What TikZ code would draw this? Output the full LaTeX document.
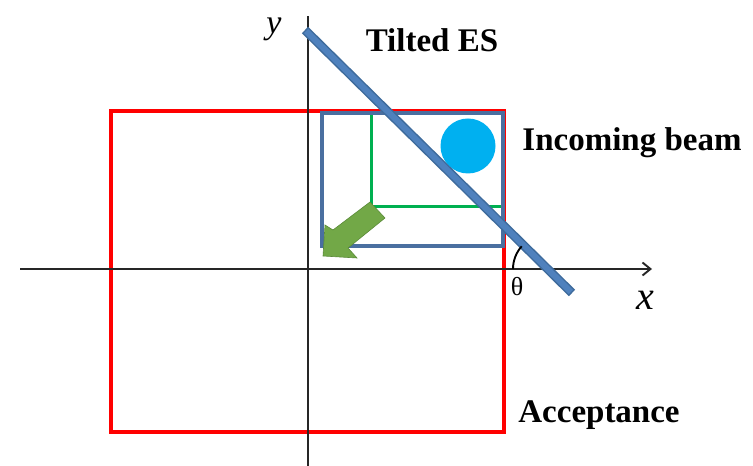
\documentclass[tikz,border=0pt]{standalone}
\usepackage{fontspec}
\setmainfont{Liberation Serif}
\definecolor{AccRed}{HTML}{FF0000}
\definecolor{BeamBlue}{HTML}{4A6FA0}
\definecolor{ESBlue}{HTML}{4F81BD}
\definecolor{ESEdge}{HTML}{3E6B9C}
\definecolor{CutGreen}{HTML}{00B050}
\definecolor{SpotCyan}{HTML}{00B0F0}
\definecolor{ArrGreen}{HTML}{72A847}
\definecolor{ArrEdge}{HTML}{5A8A38}
\usetikzlibrary{arrows.meta}

\begin{document}
\begin{tikzpicture}[x=1pt, y=1pt,
  axisline/.style={line width=1.9pt, draw=black!85},
  lbl/.style={font=\fontsize{33}{37}\selectfont\bfseries, inner sep=0pt, anchor=base},
  axlbl/.style={font=\fontsize{40}{44}\selectfont\itshape, inner sep=0pt},
  accbox/.style={draw=AccRed, line width=4pt},
  beambox/.style={draw=BeamBlue, line width=4pt},
  cutline/.style={draw=CutGreen, line width=3pt}]
\useasboundingbox (0,0) rectangle (753,466);
% acceptance window
\draw[accbox] (111,34) rectangle (504,355);
% axes
\draw[axisline, -{Straight Barb[length=8pt,width=13pt]}] (20,197) -- (652,197);
\draw[axisline] (308,0) -- (308,450);
\node[axlbl] (xl) at (645,166) {x};
\node[axlbl, font=\fontsize{34}{38}\selectfont\itshape] (yl) at (274,437) {y};
% beam and cut
\draw[cutline] (371,353) -- (371,259) -- (503,259);
\draw[beambox] (322,220) rectangle (503,353);
\fill[SpotCyan] (468,320) circle (27.5);
\draw[ArrEdge, fill=ArrGreen, line width=0.6pt]
  (323,210) -- (325,241) -- (333,236) -- (370,264) -- (385,248)
  -- (348,218) -- (357,208) -- cycle;
% tilted entrance surface
\draw[ESEdge, line width=9pt] (305,436) -- (572,173);
\draw[ESBlue, line width=6pt, shorten <=1.5pt, shorten >=1.5pt] (305,436) -- (572,173);
\draw[line width=1.9pt] (513,197) arc[start angle=180, end angle=138, radius=34];
\node[font=\fontsize{26}{30}\selectfont, inner sep=0pt] (th) at (517,179) {θ};
% labels
\node[lbl] (es) at (432,414) {Tilted ES};
\node[lbl] (beam) at (632,315) {Incoming beam};
\node[lbl] (acc) at (599,43) {Acceptance};
\end{tikzpicture}
\end{document}
